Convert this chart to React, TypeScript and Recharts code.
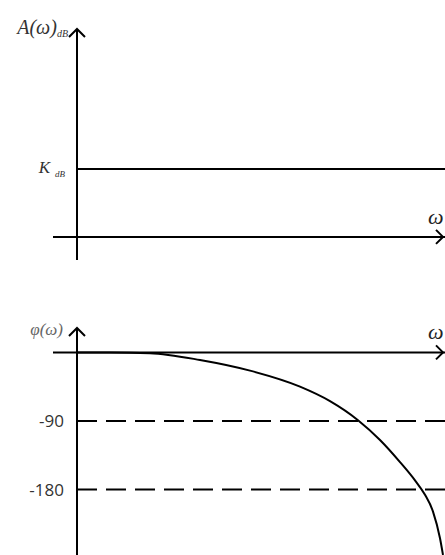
import React from 'react';
import { LineChart, Line, XAxis, YAxis, ReferenceLine, ReferenceDot } from 'recharts';

// shared frequency axis (arbitrary units)
const omegaDomain = [-0.6, 9.2];
const omegaArrow = 9.15;

// magnitude plot: constant gain K (dB)
const kDb = 10;
const magOmega = [0, 9.2];
const magDb = [kDb, kDb];
const magDomain = [-3.4, 30.6];

// phase plot (degrees)
const phaseOmega = [0, 0.825, 1.825, 3.075, 4.325, 5.575, 6.325, 7.025, 7.575, 8.075, 8.45, 8.7, 8.9, 9.075, 9.15];
const phaseDeg = [0, 0, -1, -10, -24, -45, -64, -89, -115, -144, -168, -187, -209, -244, -266];
const phaseDomain = [-266, 32];
const phaseTicks = [-90, -180];

const magData = magOmega.map((w, i) => ({ w, a: magDb[i] }));
const phaseData = phaseOmega.map((w, i) => ({ w, phi: phaseDeg[i] }));

const serif = '"Liberation Serif", "DejaVu Serif", serif';

const upArrow = (title: (cx: number, cy: number) => React.ReactNode) => (p: any) => (
  <g>
    <polyline
      points={`${p.cx - 8},${p.cy + 8} ${p.cx},${p.cy} ${p.cx + 8},${p.cy + 8}`}
      fill="none"
      stroke="#000"
      strokeWidth={2}
    />
    {title(p.cx, p.cy)}
  </g>
);

const rightArrow = (p: any) => (
  <g>
    <polyline
      points={`${p.cx - 7},${p.cy - 7} ${p.cx},${p.cy} ${p.cx - 7},${p.cy + 7}`}
      fill="none"
      stroke="#000"
      strokeWidth={2}
    />
    <text x={p.cx - 15} y={p.cy - 13} fontFamily={serif} fontStyle="italic" fontSize={22} fill="#222">
      ω
    </text>
  </g>
);

const kLabel = (p: any) => (
  <text x={p.cx - 12} y={p.cy + 4} textAnchor="end" fontFamily={serif} fontStyle="italic" fontSize={17} fill="#333">
    K
    <tspan fontSize={9} dx={5} dy={4}>dB</tspan>
  </text>
);

const tickLabel = (value: string) => ({
  value,
  position: 'left' as const,
  offset: 13,
  fill: '#333',
  fontSize: 17,
  fontFamily: '"Open Sans", sans-serif',
});

export default function App() {
  return (
    <div style={{ position: 'absolute', left: 0, top: 0, width: 445, height: 555, background: '#fff', overflow: 'hidden' }}>
      <div style={{ position: 'absolute', left: 0, top: 0 }}>
        <LineChart width={445} height={300} data={magData} margin={{ top: 29, right: 0, bottom: 40, left: 53 }}>
          <XAxis type="number" dataKey="w" domain={omegaDomain} hide allowDataOverflow />
          <YAxis type="number" domain={magDomain} hide allowDataOverflow />
          <ReferenceLine x={0} stroke="#000" strokeWidth={2} />
          <ReferenceLine y={0} stroke="#000" strokeWidth={2} />
          <Line type="linear" dataKey="a" stroke="#000" strokeWidth={2} dot={false} isAnimationActive={false} />
          <ReferenceDot x={0} y={kDb} r={0} ifOverflow="visible" shape={kLabel} />
          <ReferenceDot
            x={0}
            y={magDomain[1]}
            r={0}
            ifOverflow="visible"
            shape={upArrow((cx, cy) => (
              <text x={cx - 9} y={cy + 5} textAnchor="end" fontFamily={serif} fontStyle="italic" fontSize={20} fill="#333">
                A(ω)
                <tspan fontSize={10} dy={3}>dB</tspan>
              </text>
            ))}
          />
          <ReferenceDot x={omegaArrow} y={0} r={0} ifOverflow="visible" shape={rightArrow} />
        </LineChart>
      </div>
      <div style={{ position: 'absolute', left: 0, top: 300 }}>
        <LineChart width={445} height={255} data={phaseData} margin={{ top: 28, right: 0, bottom: 0, left: 53 }}>
          <XAxis type="number" dataKey="w" domain={omegaDomain} hide allowDataOverflow />
          <YAxis type="number" domain={phaseDomain} hide allowDataOverflow />
          <ReferenceLine x={0} stroke="#000" strokeWidth={2} />
          <ReferenceLine y={0} stroke="#000" strokeWidth={2} />
          {phaseTicks.map((t) => (
            <ReferenceLine
              key={t}
              segment={[{ x: 0, y: t }, { x: omegaDomain[1], y: t }]}
              stroke="#000"
              strokeWidth={2}
              strokeDasharray="20 9"
              label={tickLabel(String(t))}
            />
          ))}
          <Line type="monotone" dataKey="phi" stroke="#000" strokeWidth={2} dot={false} isAnimationActive={false} />
          <ReferenceDot
            x={0}
            y={phaseDomain[1]}
            r={0}
            ifOverflow="visible"
            shape={upArrow((cx, cy) => (
              <text x={cx - 14} y={cy + 7} textAnchor="end" fontFamily={serif} fontStyle="italic" fontSize={17} fill="#666">
                φ(ω)
              </text>
            ))}
          />
          <ReferenceDot x={omegaArrow} y={0} r={0} ifOverflow="visible" shape={rightArrow} />
        </LineChart>
      </div>
    </div>
  );
}
